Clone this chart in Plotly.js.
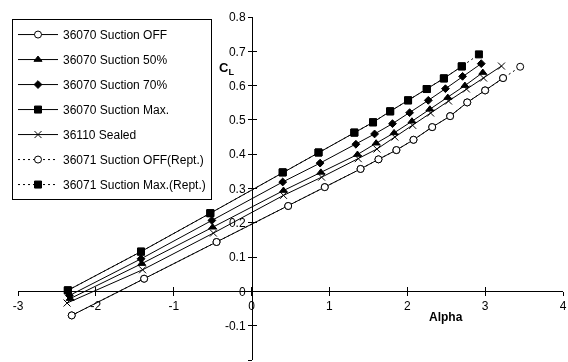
<!DOCTYPE html>
<html><head><meta charset="utf-8">
<script src="https://cdn.plot.ly/plotly-3.0.1.min.js"></script>
<style>html,body{margin:0;padding:0;background:#fff}#chart{width:568px;height:362px}</style>
</head><body><div id="chart"></div>
<script>
const names = ["36070 Suction OFF","36070 Suction 50%","36070 Suction 70%","36070 Suction Max.","36110 Sealed","36071 Suction OFF(Rept.)","36071 Suction Max.(Rept.)"];

const offAlpha  = [-2.31,-1.38,-0.45,0.47,0.94,1.40,1.63,1.86,2.08,2.32,2.55,2.77,3.00,3.23];
const offCL     = [-0.070,0.037,0.144,0.249,0.304,0.357,0.385,0.412,0.442,0.479,0.511,0.551,0.586,0.622];
const s50Alpha  = [-2.33,-1.41,-0.50,0.41,0.89,1.36,1.60,1.83,2.06,2.29,2.52,2.74,2.97];
const s50CL     = [-0.021,0.081,0.187,0.294,0.347,0.399,0.432,0.462,0.496,0.531,0.565,0.600,0.638];
const s70Alpha  = [-2.34,-1.42,-0.51,0.40,0.88,1.34,1.58,1.81,2.03,2.27,2.49,2.71,2.95];
const s70CL     = [-0.012,0.095,0.207,0.319,0.374,0.429,0.459,0.489,0.521,0.557,0.591,0.627,0.664];
const maxAlpha  = [-2.36,-1.42,-0.53,0.40,0.86,1.32,1.56,1.78,2.01,2.25,2.47,2.70];
const maxCL     = [0.003,0.116,0.228,0.347,0.405,0.463,0.493,0.525,0.557,0.590,0.621,0.656];
const sealAlpha = [-2.37,-1.40,-0.49,0.41,0.90,1.37,1.61,1.84,2.07,2.30,2.53,2.76,2.98,3.21];
const sealCL    = [-0.034,0.063,0.170,0.280,0.333,0.387,0.415,0.450,0.484,0.520,0.555,0.590,0.622,0.657];
const offRAlpha = [-2.31,-1.38,-0.45,0.47,0.94,1.40,1.63,1.86,2.08,2.32,2.55,2.77,3.00,3.23,3.45];
const offRCL    = [-0.070,0.037,0.144,0.249,0.304,0.357,0.385,0.412,0.442,0.479,0.511,0.551,0.586,0.622,0.655];
const maxRAlpha = [-2.36,-1.42,-0.53,0.40,0.86,1.32,1.56,1.78,2.01,2.25,2.47,2.70,2.92];
const maxRCL    = [0.003,0.116,0.228,0.347,0.405,0.463,0.493,0.525,0.557,0.590,0.621,0.656,0.691];

const xTickVals = [-3,-2,-1,0,1,2,3,4];
const xTickText = ["-3","-2","-1","0","1","2","3","4"];
const yTickVals = [-0.2,-0.1,0,0.1,0.2,0.3,0.4,0.5,0.6,0.7,0.8];
const yTickText = ["-0.2","-0.1","0","0.1","0.2","0.3","0.4","0.5","0.6","0.7","0.8"];

function tr(i, x, y, symbol, size, fill, dash){
  return {x:x, y:y, name:names[i], legendgroup:'g'+i, type:'scatter', mode:'lines+markers',
    line:{color:'#000', width:1, dash:dash||'solid'},
    marker:{symbol:symbol, size:size, color:fill, line:{color:'#000', width:1}}};
}
const data = [
  tr(0, offAlpha, offCL, 'circle', 7, '#fff'),
  tr(1, s50Alpha, s50CL, 'triangle-up', 7, '#000'),
  tr(2, s70Alpha, s70CL, 'diamond', 6, '#000'),
  tr(3, maxAlpha, maxCL, 'square', 7, '#000'),
  tr(4, sealAlpha, sealCL, 'x-thin-open', 7, '#000'),
  tr(5, offRAlpha, offRCL, 'circle', 7, '#fff', '2px,3px'),
  tr(6, maxRAlpha, maxRCL, 'square', 7, '#000', '2px,3px'),
  {x:sealAlpha, y:sealCL, xaxis:'x2', yaxis:'y2', showlegend:false, type:'scatter', mode:'markers', opacity:0, hoverinfo:'skip'}
];
const font = {family:'"Liberation Sans", Arial, sans-serif', size:12, color:'#000'};
const xpos = 0.2012, ypos = 0.4294;
const axBase = {showgrid:false, zeroline:false, linecolor:'#000', linewidth:1, tickcolor:'#000', ticklen:4, tickwidth:1, tickfont:font};
const layout = {
  width:568, height:362, paper_bgcolor:'#fff', plot_bgcolor:'#fff', font:font,
  margin:{l:18, r:5, t:17, b:2},
  showlegend:true,
  legend:{x:-0.011, y:0.994, xanchor:'left', yanchor:'top', bordercolor:'#000', borderwidth:1,
          font:font, tracegroupgap:6, traceorder:'grouped', bgcolor:'#fff', itemwidth:40},
  xaxis: Object.assign({}, axBase, {range:[-3,4], anchor:'free', position:xpos, showline:true, ticks:'outside',
          tickmode:'array', tickvals:xTickVals, ticktext:xTickText}),
  yaxis: Object.assign({}, axBase, {range:[-0.2,0.8], anchor:'free', position:ypos, showline:true, ticks:'outside',
          tickmode:'array', tickvals:yTickVals, ticktext:yTickText}),
  xaxis2: Object.assign({}, axBase, {range:[-3,4], overlaying:'x', anchor:'free', position:xpos, showline:false, ticks:'inside',
          showticklabels:false, tickmode:'array', tickvals:xTickVals}),
  yaxis2: Object.assign({}, axBase, {range:[-0.2,0.8], overlaying:'y', anchor:'free', position:ypos, showline:false, ticks:'inside',
          showticklabels:false, tickmode:'array', tickvals:yTickVals}),
  annotations:[
    {text:'<b>C<sub>L</sub></b>', xref:'paper', yref:'paper', x:0.3817, y:0.851, xanchor:'center', yanchor:'middle', showarrow:false, font:{family:font.family, size:13, color:'#000'}},
    {text:'<b>Alpha</b>', xref:'paper', yref:'paper', x:0.785, y:0.125, xanchor:'center', yanchor:'middle', showarrow:false, font:{family:font.family, size:12, color:'#000'}}
  ]
};
Plotly.newPlot('chart', data, layout, {staticPlot:true, displayModeBar:false});
</script></body></html>
